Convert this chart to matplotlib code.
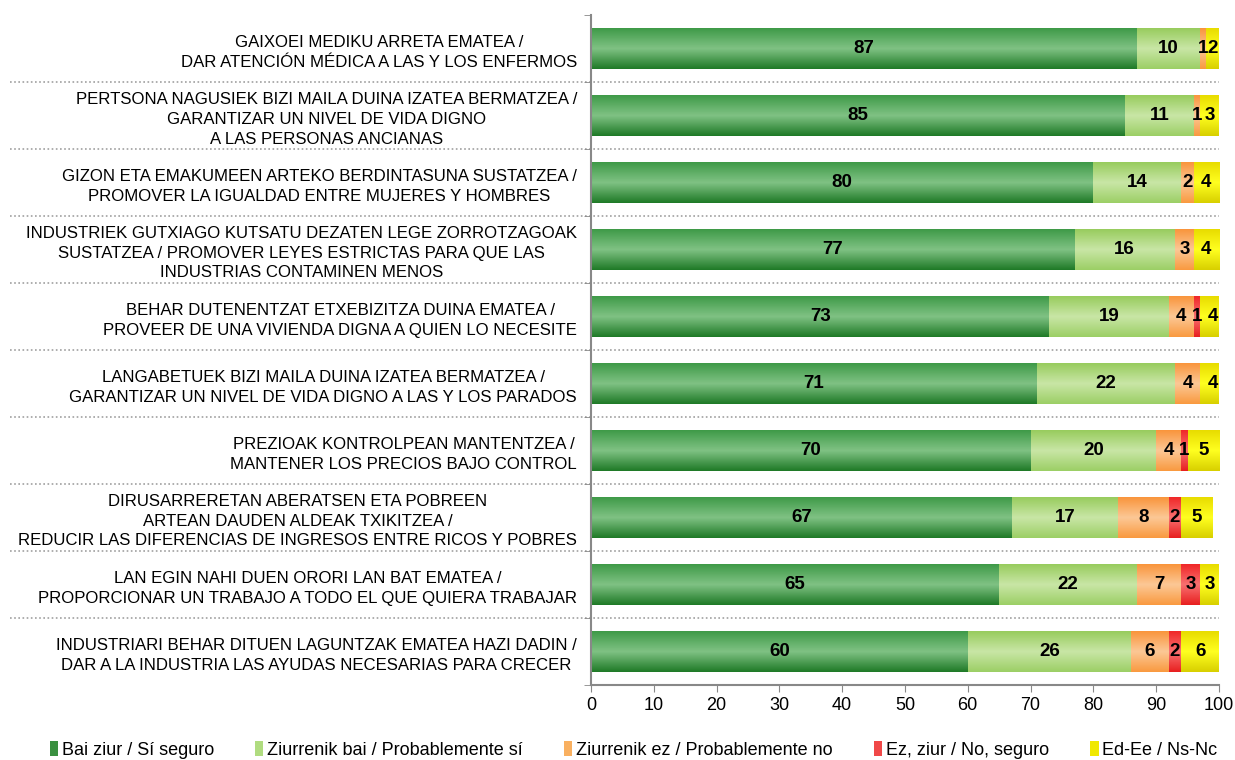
import numpy as np
import matplotlib
matplotlib.use('Agg')
from matplotlib import pyplot as plt
from matplotlib.colors import LinearSegmentedColormap
from matplotlib.patches import Patch

plt.rcParams['font.family'] = ['Liberation Sans', 'DejaVu Sans']

categories = [
    'GAIXOEI MEDIKU ARRETA EMATEA /\nDAR ATENCIÓN MÉDICA A LAS Y LOS ENFERMOS',
    'PERTSONA NAGUSIEK BIZI MAILA DUINA IZATEA BERMATZEA /\nGARANTIZAR UN NIVEL DE VIDA DIGNO\nA LAS PERSONAS ANCIANAS',
    'GIZON ETA EMAKUMEEN ARTEKO BERDINTASUNA SUSTATZEA /\nPROMOVER LA IGUALDAD ENTRE MUJERES Y HOMBRES',
    'INDUSTRIEK GUTXIAGO KUTSATU DEZATEN LEGE ZORROTZAGOAK\nSUSTATZEA / PROMOVER LEYES ESTRICTAS PARA QUE LAS\nINDUSTRIAS CONTAMINEN MENOS',
    'BEHAR DUTENENTZAT ETXEBIZITZA DUINA EMATEA /\nPROVEER DE UNA VIVIENDA DIGNA A QUIEN LO NECESITE',
    'LANGABETUEK BIZI MAILA DUINA IZATEA BERMATZEA /\nGARANTIZAR UN NIVEL DE VIDA DIGNO A LAS Y LOS PARADOS',
    'PREZIOAK KONTROLPEAN MANTENTZEA /\nMANTENER LOS PRECIOS BAJO CONTROL',
    'DIRUSARRERETAN ABERATSEN ETA POBREEN\nARTEAN DAUDEN ALDEAK TXIKITZEA /\nREDUCIR LAS DIFERENCIAS DE INGRESOS ENTRE RICOS Y POBRES',
    'LAN EGIN NAHI DUEN ORORI LAN BAT EMATEA /\nPROPORCIONAR UN TRABAJO A TODO EL QUE QUIERA TRABAJAR',
    'INDUSTRIARI BEHAR DITUEN LAGUNTZAK EMATEA HAZI DADIN /\nDAR A LA INDUSTRIA LAS AYUDAS NECESARIAS PARA CRECER',
]

series_names = ['Bai ziur / Sí seguro', 'Ziurrenik bai / Probablemente sí',
                'Ziurrenik ez / Probablemente no', 'Ez, ziur / No, seguro',
                'Ed-Ee / Ns-Nc']

bai_ziur = [87, 85, 80, 77, 73, 71, 70, 67, 65, 60]
ziurrenik_bai = [10, 11, 14, 16, 19, 22, 20, 17, 22, 26]
ziurrenik_ez = [1, 1, 2, 3, 4, 4, 4, 8, 7, 6]
ez_ziur = [0, 0, 0, 0, 1, 0, 1, 2, 3, 2]
ed_ee = [2, 3, 4, 4, 4, 4, 5, 5, 3, 6]

series = [bai_ziur, ziurrenik_bai, ziurrenik_ez, ez_ziur, ed_ee]

# (top, middle, bottom) colours for the vertical gradient of each series
grads = [
    ('#3f9a48', '#80c284', '#1f7a27'),
    ('#98cc5e', '#c9e6a6', '#9ccf66'),
    ('#f9953c', '#fcc896', '#f99a40'),
    ('#f02828', '#f87070', '#e82020'),
    ('#e8dc00', '#ffff20', '#d8d000'),
]
solid = ['#3a9040', '#b0dc80', '#f9b060', '#f04848', '#f0e800']

fig = plt.figure(figsize=(12.35, 7.6), dpi=100)
ax = fig.add_axes([0.4785, 0.0987, 0.5085, 0.8813])

bar_h = 0.6
grad_img = np.linspace(0, 1, 64).reshape(-1, 1)
for s, vals in enumerate(series):
    cmap = LinearSegmentedColormap.from_list('g%d' % s, list(grads[s]))
    for i, v in enumerate(vals):
        if v == 0:
            continue
        left = sum(series[k][i] for k in range(s))
        right = min(left + v, 100)
        ax.imshow(grad_img, cmap=cmap, aspect='auto', interpolation='bilinear',
                  extent=[left, right, i + bar_h / 2, i - bar_h / 2], zorder=2)
        ax.text(left + v / 2, i, str(v), ha='center', va='center',
                fontsize=13.5, fontweight='bold', color='black', zorder=3)

ax.set_xlim(0, 100)
ax.set_ylim(len(categories) - 0.5, -0.5)

# dotted separators between rows
for b in np.arange(0.5, len(categories) - 0.5, 1):
    ax.plot([-0.925, 1.0], [b, b], transform=ax.get_yaxis_transform(),
            color='#a0a0a0', linestyle=(0, (1, 1.5)), linewidth=1.2,
            clip_on=False, zorder=1)

ax.set_xticks(range(0, 101, 10))
ax.tick_params(axis='x', length=5, color='#888888', labelsize=13, pad=4)
ax.set_yticks(range(len(categories)))
ax.set_yticklabels(categories, fontsize=12.1, linespacing=1.38,
                   multialignment='center')
ax.set_yticks(np.arange(-0.5, len(categories), 1), minor=True)
ax.tick_params(axis='y', which='major', length=0, pad=10)
ax.tick_params(axis='y', which='minor', length=5, color='#888888')

for side in ['top', 'right']:
    ax.spines[side].set_visible(False)
for side in ['left', 'bottom']:
    ax.spines[side].set_color('#888888')
    ax.spines[side].set_linewidth(1.5)

handles = [Patch(facecolor=solid[k], edgecolor='none') for k in range(5)]
fig.legend(handles, series_names, loc='center', ncol=5,
           bbox_to_anchor=(0.513, 1 - 750 / 760), frameon=False,
           fontsize=13, handlelength=0.45, handleheight=0.9,
           handletextpad=0.2, columnspacing=2.3)

fig.savefig('out.png', dpi=100)
